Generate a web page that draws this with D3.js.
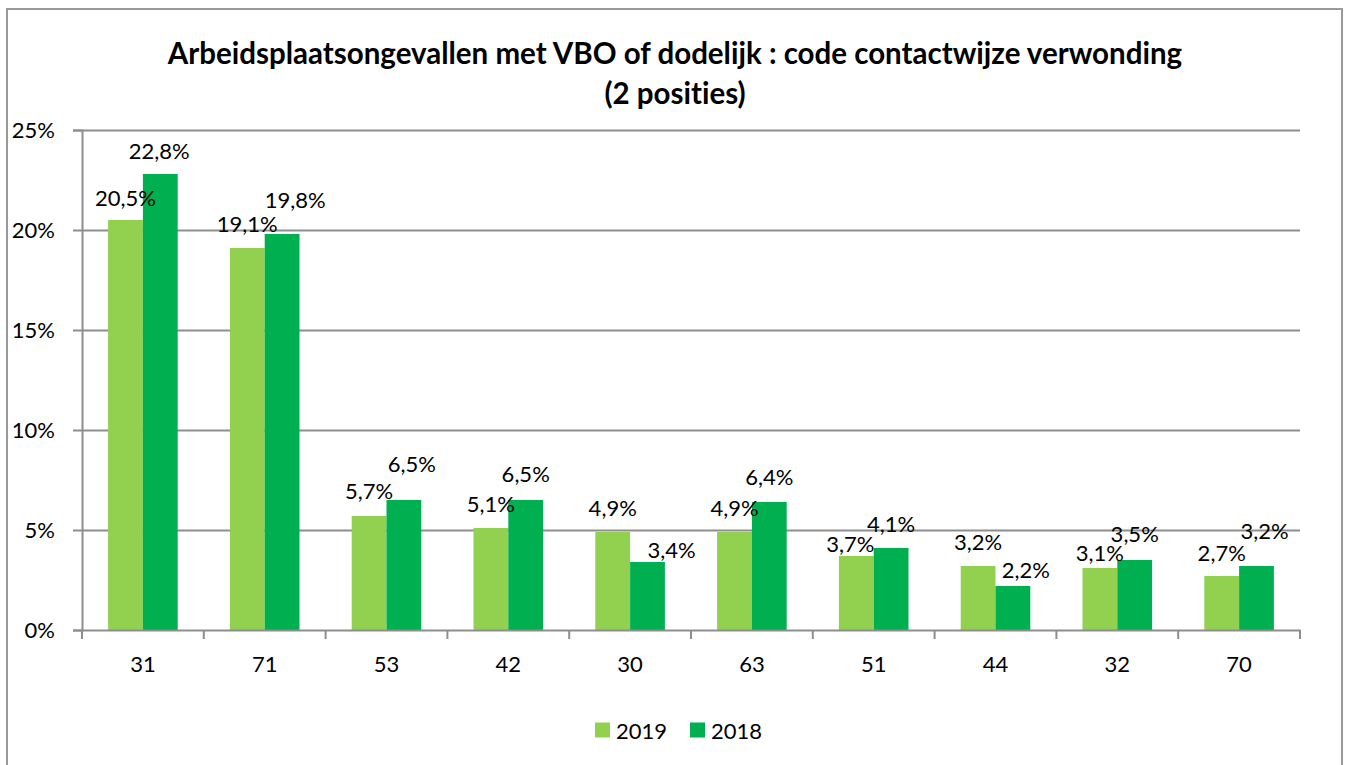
<!DOCTYPE html>
<html>
<head>
<meta charset="utf-8">
<script src="https://cdn.jsdelivr.net/npm/d3@7"></script>
<style>
  body { margin: 0; background: #fff; }
  text { font-family: Lato, "Open Sans", sans-serif; fill: #000; font-variant-ligatures: none; }
</style>
</head>
<body>
<div id="chart"></div>
<script>
// data
const categories = ["31", "71", "53", "42", "30", "63", "51", "44", "32", "70"];
const values2019 = [20.5, 19.1, 5.7, 5.1, 4.9, 4.9, 3.7, 3.2, 3.1, 2.7];
const values2018 = [22.8, 19.8, 6.5, 6.5, 3.4, 6.4, 4.1, 2.2, 3.5, 3.2];
const seriesNames = ["2019", "2018"];
const yTicks = [0, 5, 10, 15, 20, 25];
const titleLines = ["Arbeidsplaatsongevallen met VBO of dodelijk : code contactwijze verwonding", "(2 posities)"];

// label nudges (the labels were dragged around by hand in the original)
const nudge2019 = [[0,2],[0,0],[0,-1],[0,0],[0,0],[0,0],[-6,12],[0,0],[0,9],[0,1]];
const nudge2018 = [[-1,1],[13,-10],[8,-12],[0,-2],[24,12],[0,-1],[0,0],[13,8],[0,-2],[8,-11]];

const colors = {"2019": "#92D050", "2018": "#00B050"};
const W = 1347, H = 765;
const plot = {left: 82, right: 1300, top: 130, bottom: 630};

var svg = d3.select("#chart").append("svg")
  .attr("width", W).attr("height", H);

// outer frame
svg.append("rect")
  .attr("x", 7).attr("y", 9)
  .attr("width", 1335).attr("height", 780)
  .attr("fill", "none").attr("stroke", "#9a9a9a").attr("stroke-width", 2);

// title
svg.append("g").selectAll("text")
  .data(titleLines)
  .join("text")
  .attr("x", 675)
  .attr("y", (d, i) => 52 + i * 40)
  .attr("text-anchor", "middle")
  .attr("dominant-baseline", "central")
  .style("font-size", "29.5px")
  .style("font-weight", "bold")
  .text(d => d);

var x = d3.scaleBand().domain(categories).range([plot.left, plot.right]);
var x1 = d3.scaleBand().domain(seriesNames).range([0, x.bandwidth()]).paddingOuter(0.75);
var y = d3.scaleLinear().domain([0, 25]).range([plot.bottom, plot.top]);

// gridlines
svg.append("g")
  .attr("transform", `translate(${plot.left},0)`)
  .call(d3.axisLeft(y).tickValues(yTicks.slice(1)).tickSize(-(plot.right - plot.left)).tickFormat(""))
  .call(g => g.select(".domain").remove())
  .call(g => g.selectAll("line").attr("stroke", "#8e8e8e").attr("stroke-width", 2));

// y axis
svg.append("g")
  .attr("transform", `translate(${plot.left},0)`)
  .call(d3.axisLeft(y).tickValues(yTicks).tickSize(9).tickPadding(18).tickFormat(d => d + "%"))
  .call(g => g.select(".domain").attr("stroke", "#8e8e8e").attr("stroke-width", 2))
  .call(g => g.selectAll("line").attr("stroke", "#8e8e8e").attr("stroke-width", 2))
  .call(g => g.selectAll("text").style("font-size", "22px").attr("font-family", null));

// bars
var rows = categories.map((c, i) => ({cat: c, i: i, vals: [
  {s: "2019", v: values2019[i], n: nudge2019[i]},
  {s: "2018", v: values2018[i], n: nudge2018[i]}
]}));

var groups = svg.append("g").selectAll("g")
  .data(rows)
  .join("g")
  .attr("transform", d => `translate(${x(d.cat)},0)`);

groups.selectAll("rect")
  .data(d => d.vals)
  .join("rect")
  .attr("x", d => x1(d.s))
  .attr("y", d => y(d.v))
  .attr("width", x1.bandwidth())
  .attr("height", d => y(0) - y(d.v))
  .attr("fill", d => colors[d.s]);

// x axis
svg.append("g")
  .attr("transform", `translate(0,${plot.bottom})`)
  .call(d3.axisBottom(x).tickSize(0).tickPadding(26))
  .call(g => g.select(".domain").attr("stroke", "#8e8e8e").attr("stroke-width", 2))
  .call(g => g.selectAll("text").style("font-size", "22px").attr("font-family", null));

var bounds = categories.map(c => x(c)).concat([plot.right]);
svg.append("g").selectAll("line")
  .data(bounds)
  .join("line")
  .attr("x1", d => d).attr("x2", d => d)
  .attr("y1", plot.bottom).attr("y2", plot.bottom + 9)
  .attr("stroke", "#8e8e8e").attr("stroke-width", 2);

// data labels
groups.selectAll("text.lbl")
  .data(d => d.vals)
  .join("text")
  .attr("class", "lbl")
  .attr("x", d => x1(d.s) + x1.bandwidth() / 2 + d.n[0])
  .attr("y", d => y(d.v) - 25 + d.n[1])
  .attr("text-anchor", "middle")
  .attr("dominant-baseline", "central")
  .style("font-size", "22px")
  .text(d => d3.format(".1f")(d.v).replace(".", ",") + "%");

// legend
var legend = svg.append("g").selectAll("g")
  .data(seriesNames)
  .join("g")
  .attr("transform", (d, i) => `translate(${595 + i * 95},730)`);

legend.append("rect")
  .attr("x", 0).attr("y", -7.5)
  .attr("width", 15).attr("height", 15)
  .attr("fill", d => colors[d]);

legend.append("text")
  .attr("x", 21)
  .attr("dominant-baseline", "central")
  .style("font-size", "22px")
  .text(d => d);
</script>
</body>
</html>
